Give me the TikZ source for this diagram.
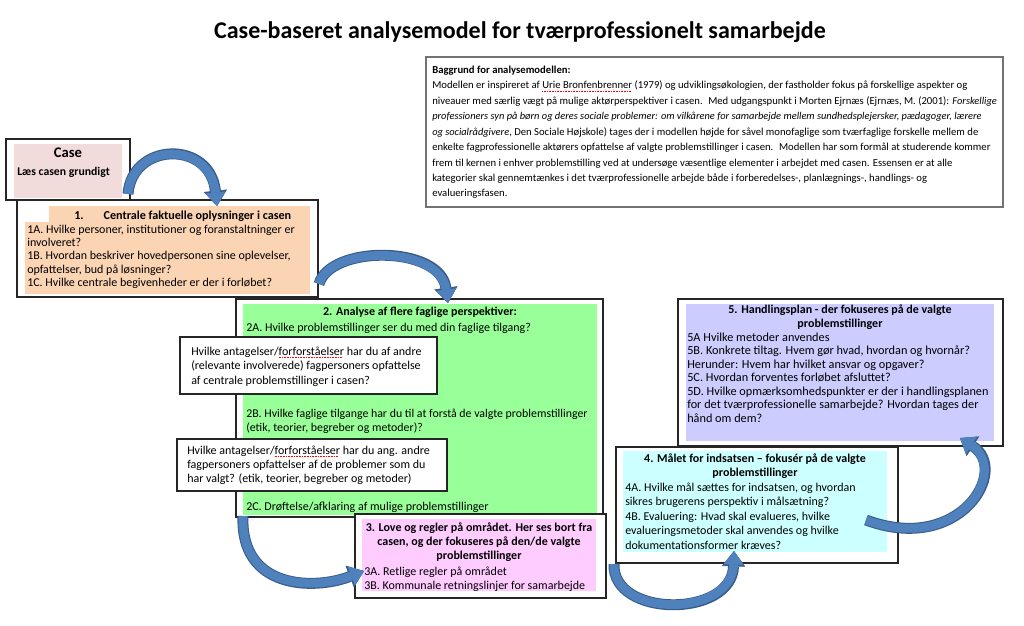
\documentclass[tikz,border=0pt]{standalone}
\usepackage{fontspec}
\setmainfont{Carlito}
\usetikzlibrary{arrows.meta,fit}
\definecolor{casepink}{HTML}{F2DCDB}
\definecolor{peach}{HTML}{FBD4B4}
\definecolor{lgreen}{HTML}{99FF99}
\definecolor{pinkthree}{HTML}{FFCCFF}
\definecolor{cyanfour}{HTML}{CCFFFF}
\definecolor{lavfive}{HTML}{CCCCFF}
\definecolor{arrowblue}{HTML}{4F81BD}
\definecolor{arrowdark}{HTML}{385D8A}
\newcommand\bxfont[2]{\fontsize{#1}{#2}\selectfont}
\newcommand\bgfont{\fontsize{8.0}{11.6}\selectfont}
\newcommand\bgit[1]{{\fontsize{7.8}{11.6}\selectfont\itshape #1}}
\newcommand\ttlfont{\fontsize{18}{20}\selectfont\bfseries}
\newcommand\casefont{\fontsize{11}{13}\selectfont\bfseries}
\newcommand\spellerr[1]{\setbox0=\hbox{#1}\rlap{\color{red}\raisebox{-1.9pt}[0pt][0pt]{\hbox to \wd0{\leaders\hbox{\rule{0.7pt}{0.4pt}\kern0.5pt}\hfil}}}#1}
\tikzset{
  outerbox/.style={draw=black!85, line width=0.8pt, fill=white, inner sep=0pt},
  txt/.style={anchor=north west, align=left, inner sep=0pt},
  ttl/.style={anchor=north, align=center, inner sep=0pt},
  arrowout/.style={draw=arrowdark, line width=8.2pt, -{Triangle[length=11.5pt,width=17.5pt,line width=0.5pt,fill=arrowdark]}},
  arrowin/.style={draw=arrowblue, line width=6.6pt, -{Triangle[length=10.2pt,width=15.2pt,line width=0.5pt,fill=arrowblue]}},
}
\begin{document}
\begin{tikzpicture}[x=0.75pt,y=-0.75pt]
\useasboundingbox (0,0) rectangle (1024,625);
\fill[white] (0,0) rectangle (1024,625);

% title
\node[font=\ttlfont, inner sep=0pt] (title) at (520,32) {Case-baseret analysemodel for tværprofessionelt samarbejde};

% background box
\node[draw=black!55, line width=0.8pt, fill=white, inner sep=0pt, fit={(426,57) (1003,207)}] (bg) {};
\node[txt, font=\bgfont] (bgtext) at (432,65.5) {\textbf{Baggrund for analysemodellen:}\\
Modellen er inspireret af \spellerr{Urie Bronfenbrenner} (1979) og udviklingsøkologien, der fastholder fokus på forskellige aspekter og\\
niveauer med særlig vægt på mulige aktørperspektiver i casen.~ Med udgangspunkt i Morten Ejrnæs (Ejrnæs, M. (2001): \bgit{Forskellige}\\
\bgit{professioners syn på børn og deres sociale problemer: om vilkårene for samarbejde mellem sundhedsplejersker, pædagoger, lærere}\\
\bgit{og socialrådgivere}, Den Sociale Højskole) tages der i modellen højde for såvel monofaglige som tværfaglige forskelle mellem de\\
enkelte fagprofessionelle aktørers opfattelse af valgte problemstillinger i casen.~ Modellen har som formål at studerende kommer\\
frem til kernen i enhver problemstilling ved at undersøge væsentlige elementer i arbejdet med casen. Essensen er at alle\\
kategorier skal gennemtænkes i det tværprofessionelle arbejde både i forberedelses-, planlægnings-, handlings- og\\
evalueringsfasen.};

% case
\node[outerbox, fit={(6,139) (130,200)}] (case) {};
\fill[casepink] (14,144) rectangle (122,198);
\node[font=\casefont, inner sep=0pt] (casettl) at (68,153) {Case};
\node[anchor=west, font={\bxfont{8.8}{10}\bfseries}, inner sep=0pt] (caseread) at (17,172) {Læs casen grundigt};

% box 1
\node[outerbox, fit={(17,200) (318,297)}] (box1) {};
\fill[peach] (49,206) rectangle (310,223);
\fill[peach] (25,222) rectangle (310,294);
\node[txt, font={\bxfont{9.1}{10}\bfseries}] (t1) at (74,210.5) {1.\hspace{15pt}Centrale faktuelle oplysninger i casen};
\node[txt, font={\bxfont{9.0}{10}}] (b1) at (27,224.5) {1A. Hvilke personer, institutioner og foranstaltninger er\\
involveret?\\
1B. Hvordan beskriver hovedpersonen sine oplevelser,\\
opfattelser, bud på løsninger?\\
1C. Hvilke centrale begivenheder er der i forløbet?};

% box 2
\node[outerbox, fit={(236,299) (603,517)}] (box2) {};
\fill[lgreen] (243,304) rectangle (597,515);
\node[ttl, font={\bxfont{9.0}{10.5}\bfseries}] (t2) at (420,306.5) {2. Analyse af flere faglige perspektiver:};
\node[txt, font={\bxfont{9.0}{10.5}}] (b2a) at (246,322.5) {2A. Hvilke problemstillinger ser du med din faglige tilgang?};
\node[txt, font={\bxfont{8.9}{10.5}}] (b2b) at (246,408.5) {2B. Hvilke faglige tilgange har du til at forstå de valgte problemstillinger\\
(etik, teorier, begreber og metoder)?};
\node[txt, font={\bxfont{9.0}{10.5}}] (b2c) at (246,501.5) {2C. Drøftelse/afklaring af mulige problemstillinger};

% callouts
\node[outerbox, fit={(180,337) (437,394)}] (call1) {};
\node[txt, font={\bxfont{9.0}{10.9}}] (c1) at (191,346.5) {Hvilke antagelser/\spellerr{forforståelser} har du af andre\\
(relevante involverede) fagpersoners opfattelse\\
af centrale problemstillinger i casen?};
\node[outerbox, fit={(177,439) (447,491)}] (call2) {};
\node[txt, font={\bxfont{9.0}{10.5}}] (c2) at (187,445.5) {Hvilke antagelser/\spellerr{forforståelser} har du ang. andre\\
fagpersoners opfattelser af de problemer som du\\
har valgt? (etik, teorier, begreber og metoder)};

% box 3
\node[outerbox, fit={(355,514) (606,598)}] (box3) {};
\fill[pinkthree] (362,519) rectangle (596,591);
\node[ttl, font={\bxfont{9.0}{10.5}\bfseries}] (t3) at (479,522.5) {3. Love og regler på området. Her ses bort fra\\
casen, og der fokuseres på den/de valgte\\
problemstillinger};
\node[txt, font={\bxfont{9.0}{10.5}}] (b3) at (364,566.5) {3A. Retlige regler på området\\
3B. Kommunale retningslinjer for samarbejde};

% box 5
\node[outerbox, fit={(678,299) (1003,446)}] (box5) {};
\fill[lavfive] (686,304) rectangle (994,441);
\node[ttl, font={\bxfont{9.0}{10.5}\bfseries}] (t5) at (840,304.5) {5. Handlingsplan - der fokuseres på de valgte\\
problemstillinger};
\node[txt, font={\bxfont{9.2}{10.1}}] (b5) at (687,332.5) {5A Hvilke metoder anvendes\\
5B. Konkrete tiltag. Hvem gør hvad, hvordan og hvornår?\\
Herunder: Hvem har hvilket ansvar og opgaver?\\
5C. Hvordan forventes forløbet afsluttet?\\
5D. Hvilke opmærksomhedspunkter er der i handlingsplanen\\
for det tværprofessionelle samarbejde? Hvordan tages der\\
hånd om dem?};

% box 4
\node[outerbox, fit={(616,447) (898,563)}] (box4) {};
\fill[cyanfour] (623,451) rectangle (887,552);
\node[ttl, font={\bxfont{9.0}{10.7}\bfseries}] (t4) at (755,453.5) {4. Målet for indsatsen – fokusér på de valgte\\
problemstillinger};
\node[txt, font={\bxfont{9.0}{10.9}}] (b4) at (625,482.5) {4A. Hvilke mål sættes for indsatsen, og hvordan\\
sikres brugerens perspektiv i målsætning?\\
4B. Evaluering: Hvad skal evalueres, hvilke\\
evalueringsmetoder skal anvendes og hvilke\\
dokumentationsformer kræves?};

% arrows
\coordinate (a1s) at (128,194);
\coordinate (a1e) at (217,206);
\coordinate (a2s) at (319,284);
\coordinate (a2e) at (448,303);
\coordinate (a3s) at (243,516);
\coordinate (a3e) at (364,571);
\coordinate (a4s) at (614,564);
\coordinate (a4e) at (734,551);
\coordinate (a5s) at (866,520);
\coordinate (a5e) at (960,438);

\foreach \st in {arrowout,arrowin}{
  \draw[\st] (a1s) .. controls (132,142) and (210,140) .. (a1e);
  \draw[\st] (a2s) .. controls (330,245) and (440,245) .. (a2e);
  \draw[\st] (a3s) .. controls (240,590) and (315,590) .. (a3e);
  \draw[\st] (a4s) .. controls (612,618) and (732,618) .. (a4e);
  \draw[\st] (a5s) .. controls (960,555) and (1010,470) .. (a5e);
}
\end{tikzpicture}
\end{document}
